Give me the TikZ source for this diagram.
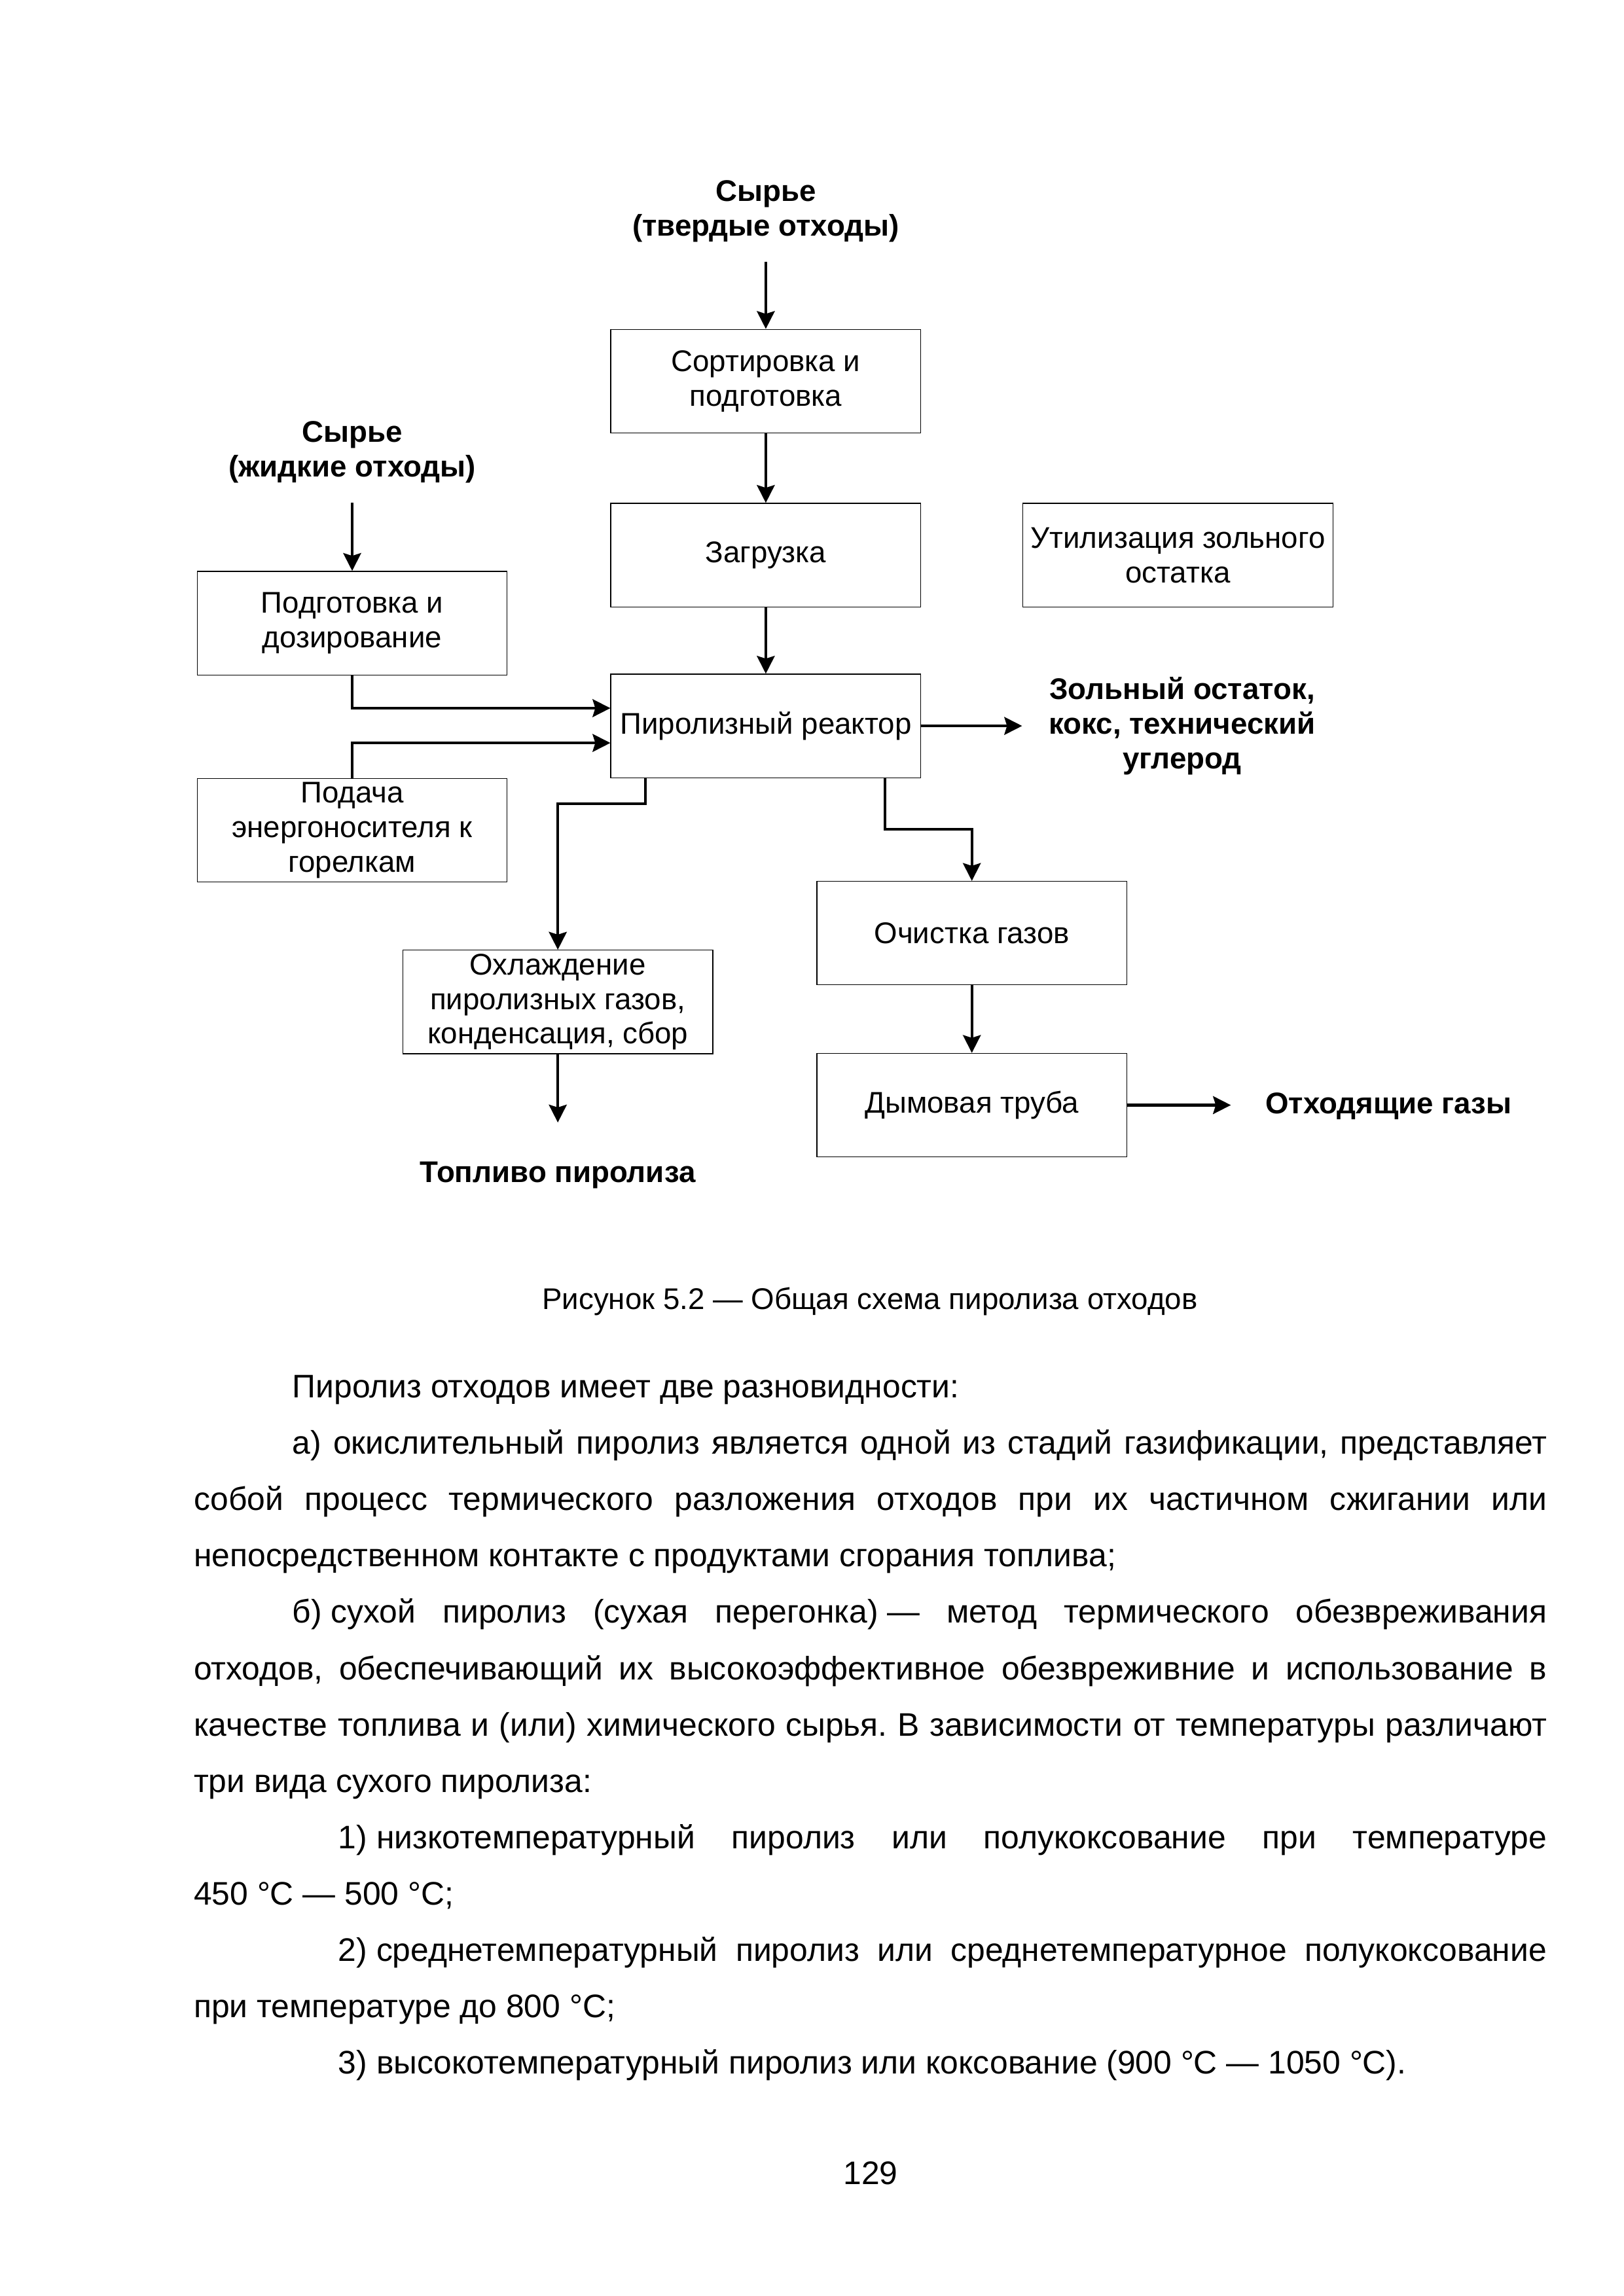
\documentclass[tikz,border=0pt]{standalone}
\usepackage{fontspec}
\setmainfont{Liberation Sans}
\usetikzlibrary{arrows.meta}
\frenchspacing
\newcommand{\fixsp}{\hspace*{0.278em}}

\begin{document}
\begin{tikzpicture}[x=1mm,y=-1mm,>={Stealth[length=2.3mm,width=2.3mm,inset=0.35mm]},
  box/.style={draw,line width=0.3pt,minimum width=40.1mm,minimum height=13.4mm,inner sep=0.2mm,align=center,font=\fontsize{11}{12.75}\selectfont},
  lbl/.style={inner sep=0pt,align=center,font=\bfseries\fontsize{11}{12.75}\selectfont},
  flow/.style={->,line width=1pt}]
\useasboundingbox (0,0) rectangle (210,297);

\node[lbl] (solid) at (99.05,27.3) {Сырье\\(твердые отходы)};
\node[lbl] (liquid) at (45.55,58.5) {Сырье\\(жидкие отходы)};
\node[box] (sort) at (99.05,49.3) {Сортировка и\\подготовка};
\node[box] (load) at (99.05,71.8) {Загрузка};
\node[box] (ashuse) at (152.35,71.8) {Утилизация зольного\\остатка};
\node[box] (prep) at (45.55,80.6) {Подготовка и\\дозирование};
\node[box] (reactor) at (99.05,93.9) {Пиролизный реактор};
\node[box] (energy) at (45.55,107.4) {Подача\\энергоносителя к\\горелкам};
\node[box] (clean) at (125.7,120.7) {Очистка газов};
\node[box] (cool) at (72.15,129.6) {Охлаждение\\пиролизных газов,\\конденсация, сбор};
\node[box] (stack) at (125.7,142.95) {Дымовая труба};
\node[lbl,anchor=west] (ash) at (135.6,93.9) {Зольный остаток,\\кокс, технический\\углерод};
\node[lbl] (fuel) at (72.15,152.0) {Топливо пиролиза};
\node[lbl,anchor=west] (exhaust) at (163.6,143.1) {Отходящие газы};

\draw[flow,shorten <=2.5mm] (solid) -- (sort);
\draw[flow] (sort) -- (load);
\draw[flow] (load) -- (reactor);
\draw[flow,shorten <=2.5mm] (liquid) -- (prep);
\draw[flow] (prep.south) |- ([yshift=2.3mm]reactor.west);
\draw[flow] (energy.north) |- ([yshift=-2.2mm]reactor.west);
\draw[flow,shorten >=3.4mm] (reactor.east) -- (reactor.east -| ash.west);
\draw[flow] ([xshift=-15.55mm]reactor.south) -- ++(0,3.3) -| (cool.north);
\draw[flow] ([xshift=15.45mm]reactor.south) -- ++(0,6.6) -| (clean.north);
\draw[flow,shorten >=5mm] (cool) -- (fuel);
\draw[flow] (clean) -- (stack);
\draw[flow,shorten >=4.4mm] (stack.east) -- (stack.east -| exhaust.west);

\node[anchor=base,inner sep=0pt,font=\fontsize{11}{13}\selectfont] (caption) at (112.5,169.4) {Рисунок 5.2 — Общая схема пиролиза отходов};

\node[anchor=base west,inner sep=0pt,text width=175mm,align=justify,font=\fontsize{12}{20.74}\selectfont] (body) at (25,180.8) {\parindent=0pt\parskip=0pt\tolerance=10000\hyphenpenalty=10000%
\hspace*{12.75mm}Пиролиз отходов имеет две разновидности:\par
\hspace*{12.75mm}а) окислительный пиролиз является одной из стадий газификации, представляет\linebreak
собой процесс термического разложения отходов при их частичном сжигании или\linebreak
непосредственном контакте с продуктами сгорания топлива;\par
\hspace*{12.75mm}б)\fixsp сухой пиролиз (сухая перегонка)\fixsp— метод термического обезвреживания\linebreak
отходов, обеспечивающий их высокоэффективное обезвреживние и использование в\linebreak
качестве топлива и (или) химического сырья. В зависимости от температуры различают\linebreak
три вида сухого пиролиза:\par
\hspace*{18.7mm}1)\fixsp низкотемпературный пиролиз или полукоксование при температуре\linebreak
450\fixsp°C — 500\fixsp°C;\par
\hspace*{18.7mm}2)\fixsp среднетемпературный пиролиз или среднетемпературное полукоксование\linebreak
при температуре до 800\fixsp°C;\par
\hspace*{18.7mm}3)\fixsp высокотемпературный пиролиз или коксование (900\fixsp°C — 1050\fixsp°C).\par};

\node[anchor=base,inner sep=0pt,font=\fontsize{12}{14}\selectfont] (page) at (112.6,282.6) {129};
\end{tikzpicture}
\end{document}
